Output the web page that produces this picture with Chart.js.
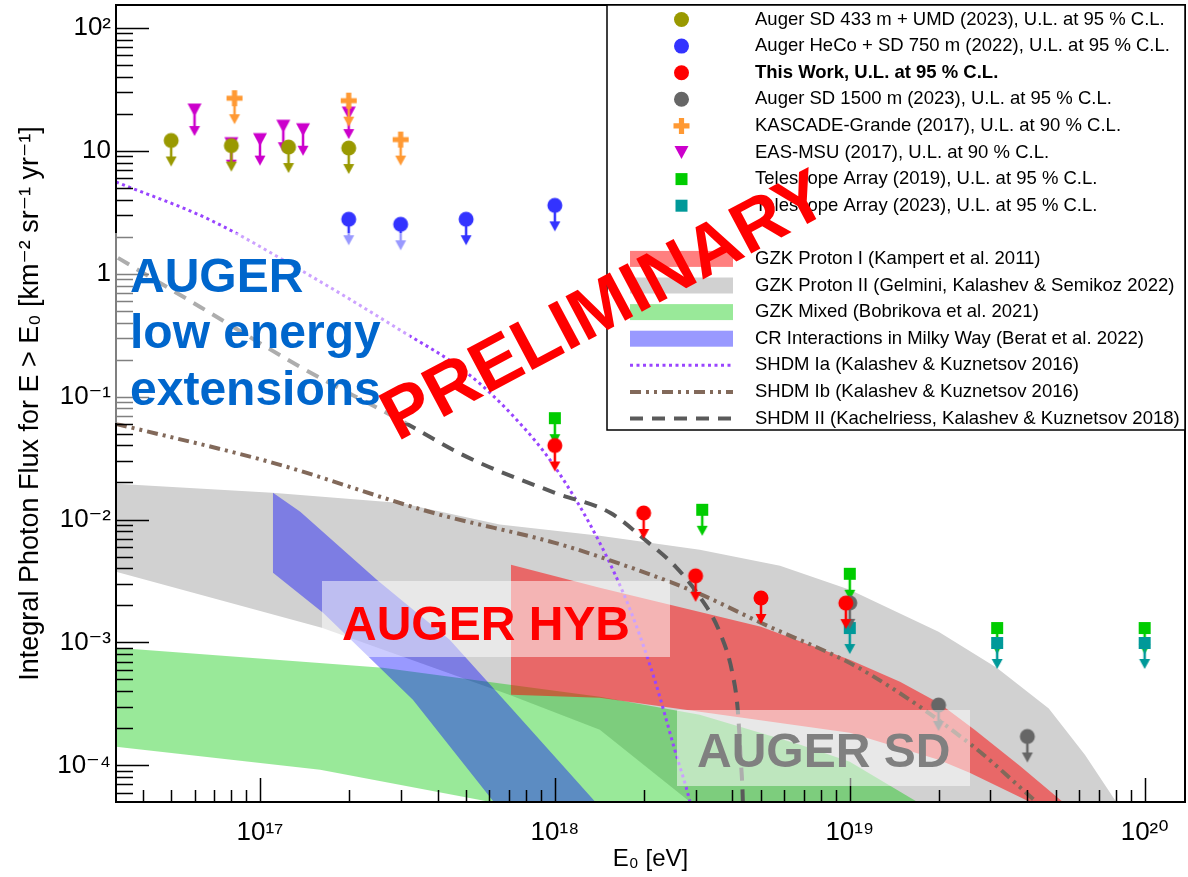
<!DOCTYPE html>
<html>
<head>
<meta charset="utf-8">
<title>Integral photon flux upper limits</title>
<script src="https://cdn.jsdelivr.net/npm/chart.js@4.4.1/dist/chart.umd.min.js"></script>
<style>
  html, body { margin: 0; padding: 0; background: #fff; }
  canvas { display: block; }
</style>
</head>
<body>
<canvas id="chart" width="1188" height="877"></canvas>
<script>
// upper limits, E0 [eV] and flux [km^-2 sr^-1 yr^-1]
const sd433E = [5e16, 8e16, 1.25e17, 2e17];
const sd433UL = [12.1, 11.0, 10.7, 10.5];
const hecoE = [2e17, 3e17, 5e17, 1e18];
const hecoUL = [2.77, 2.52, 2.77, 3.59];
const hybE = [1e18, 2e18, 3e18, 5e18, 9.7e18];
const hybUL = [0.040, 0.0113, 0.00348, 0.0023, 0.00209];
const sd1500E = [1e19, 2e19, 4e19];
const sd1500UL = [0.0021, 3.1e-4, 1.72e-4];
const kgE = [8.2e16, 2e17, 3e17];
const kgUL = [26.7, 25.5, 12.3];
const msuE = [6e16, 8e16, 1e17, 1.2e17, 1.4e17, 2e17];
const msuUL = [21.4, 11.4, 12.3, 15.8, 14.8, 20.2];
const ta19E = [1e18, 3.16e18, 1e19, 3.16e19, 1e20];
const ta19UL = [0.0667, 0.012, 0.00362, 0.00131, 0.00131];
const ta23E = [1e19, 3.16e19, 1e20];
const ta23UL = [0.00131, 0.00099, 0.00099];

// model bands: upper and lower edges
const gzk1UpE = [7.1e17, 1.42e18, 5.0e18, 1.0e19, 1.48e19, 2.0e19, 2.65e19, 3.77e19, 5.3e19, 6.5e19];
const gzk1UpF = [0.00428, 0.00279, 0.00134, 0.000723, 0.000479, 0.000324, 0.000195, 9.95e-5, 5.0e-5, 2.0e-5];
const gzk1LoE = [7.1e17, 1.42e18, 3.1e18, 1.0e19, 2.0e19, 2.55e19, 4.07e19, 5.15e19];
const gzk1LoF = [0.000376, 0.000355, 0.000273, 0.000184, 0.000111, 8.7e-5, 5.07e-5, 2.0e-5];

const gzk2UpE = [3.25e16, 1.1e17, 3.0e17, 6.5e17, 1.42e18, 3.1e18, 5.8e18, 1.0e19, 2.0e19, 3.15e19, 4.73e19, 6.27e19, 8.0e19, 8.9e19, 9.8e19];
const gzk2UpF = [0.0195, 0.0165, 0.0136, 0.0091, 0.00737, 0.00567, 0.0042, 0.00268, 0.00122, 0.000623, 0.00029, 0.000122, 5.07e-5, 3.0e-5, 2.0e-5];
const gzk2LoE = [3.25e16, 1.62e17, 7.0e17, 1.42e18, 2.87e18, 3.6e18];
const gzk2LoF = [0.00376, 0.00132, 0.000376, 0.000195, 5.07e-5, 2.0e-5];

const mixUpE = [3.25e16, 2.61e17, 1.42e18, 3.1e18, 6.8e18, 1.0e19, 1.69e19, 1.95e19];
const mixUpF = [0.000906, 0.000623, 0.000362, 0.000258, 0.000147, 0.000107, 5.07e-5, 2.0e-5];
const mixLoE = [3.25e16, 1.6e17, 6.0e17, 8.9e17];
const mixLoF = [0.000142, 9.2e-5, 5.07e-5, 2.0e-5];

const mwUpE = [1.107e17, 1.37e17, 2.49e17, 4.4e17, 7.2e17, 1.37e18, 1.93e18];
const mwUpF = [0.0165, 0.01155, 0.00324, 0.00105, 0.000284, 5.07e-5, 2.06e-5];
const mwLoE = [1.107e17, 1.64e17, 3.3e17, 6.2e17, 8.2e17];
const mwLoF = [0.00369, 0.00174, 0.000342, 5.07e-5, 2.06e-5];

// SHDM curves
const shdmIaE = [3.25e16, 6.78e16, 1.37e17, 2.98e17, 5.03e17, 7.43e17, 1e18, 1.42e18, 1.8e18, 2.18e18, 2.55e18, 2.87e18, 3.1e18];
const shdmIaF = [5.57, 2.73, 1.072, 0.3485, 0.1559, 0.0646, 0.0268, 0.00646, 0.001845, 0.000497, 0.000134, 5.07e-5, 2.06e-5];
const shdmIbE = [3.25e16, 1.107e17, 3.86e17, 1e18, 1.42e18, 3.03e18, 4.99e18, 1.1e19, 2.63e19, 4.21e19, 5.5e19];
const shdmIbF = [0.0600, 0.0289, 0.01134, 0.00646, 0.00497, 0.00254, 0.001446, 0.0006, 0.000142, 5.26e-5, 3.0e-5];
const shdmIIE = [3.3e16, 6.27e16, 1.37e17, 2.98e17, 5.03e17, 1e18, 1.54e18, 2.02e18, 2.57e18, 3.03e18, 3.63e18, 4.01e18, 4.17e18, 4.27e18, 4.34e18, 4.37e18];
const shdmIIF = [1.342, 0.536, 0.1743, 0.0646, 0.0323, 0.01649, 0.01134, 0.00684, 0.00412, 0.00254, 0.0012, 0.000546, 0.000284, 0.000111, 5.07e-5, 2.06e-5];

// axis ticks
const xTickValues = [1e17, 1e18, 1e19, 1e20];
const xTickLabels = ['10¹⁷', '10¹⁸', '10¹⁹', '10²⁰'];
const yTickValues = [1e-4, 1e-3, 1e-2, 1e-1, 1, 10, 100];
const yTickLabels = ['10⁻⁴', '10⁻³', '10⁻²', '10⁻¹', '1', '10', '10²'];

const FONT = "'Liberation Sans', Arial, Helvetica, 'DejaVu Sans', sans-serif";

const pts = (xs, ys) => xs.map((x, i) => ({x: x, y: ys[i]}));
const band = (ux, uy, lx, ly) => pts(ux, uy).concat(pts(lx, ly).reverse());

function drawMarker(c, shape, color, cx, cy) {
    c.fillStyle = color;
    c.beginPath();
    if (shape === 'circle') {
        c.arc(cx, cy, 7.5, 0, 2 * Math.PI);
    } else if (shape === 'square') {
        c.rect(cx - 6, cy - 6, 12, 12);
    } else if (shape === 'cross') {
        c.rect(cx - 8, cy - 2.6, 16, 5.2);
        c.rect(cx - 2.6, cy - 8, 5.2, 16);
    } else if (shape === 'triDown') {
        c.moveTo(cx - 7, cy - 6.5);
        c.lineTo(cx + 7, cy - 6.5);
        c.lineTo(cx, cy + 6.5);
        c.closePath();
    }
    c.fill();
}

// marker with a downward arrow (upper limit)
function ulMarker(shape, color) {
    const cv = document.createElement('canvas');
    cv.width = 24;
    cv.height = 64;
    const c = cv.getContext('2d');
    const cx = 12, cy = 32, len = 26;
    c.strokeStyle = color;
    c.lineWidth = 2.5;
    c.beginPath();
    c.moveTo(cx, cy);
    c.lineTo(cx, cy + len - 8);
    c.stroke();
    c.fillStyle = color;
    c.beginPath();
    c.moveTo(cx - 5.5, cy + len - 10);
    c.lineTo(cx + 5.5, cy + len - 10);
    c.lineTo(cx, cy + len);
    c.closePath();
    c.fill();
    drawMarker(c, shape, color, cx, cy);
    return cv;
}

function ulSet(label, xs, ys, shape, color, order, row, bold) {
    return {
        label: label, data: pts(xs, ys), showLine: false,
        pointStyle: ulMarker(shape, color), pointRadius: 10, order: order,
        lg: {row: row, kind: 'marker', shape: shape, color: color, bold: bold}
    };
}

function bandSet(label, data, color, order, row) {
    return {
        label: label, data: data, fill: 'shape', backgroundColor: color,
        borderColor: 'rgba(0,0,0,0)', borderWidth: 0, pointRadius: 0, tension: 0,
        clip: 0, order: order, lg: {row: row, kind: 'band', color: color}
    };
}

function curveSet(label, xs, ys, color, width, dash, order, row) {
    return {
        label: label, data: pts(xs, ys), fill: false, borderColor: color,
        borderWidth: width, borderDash: dash, pointRadius: 0,
        cubicInterpolationMode: 'monotone', clip: 0, order: order,
        lg: {row: row, kind: 'line'}
    };
}

const datasets = [
    ulSet('Auger SD 433 m + UMD (2023), U.L. at 95 % C.L.', sd433E, sd433UL, 'circle', '#999900', 3, 0),
    ulSet('Auger HeCo + SD 750 m (2022), U.L. at 95 % C.L.', hecoE, hecoUL, 'circle', '#3333ff', 4, 1),
    ulSet('This Work, U.L. at 95 % C.L.', hybE, hybUL, 'circle', '#ff0000', 1, 2, true),
    ulSet('Auger SD 1500 m (2023), U.L. at 95 % C.L.', sd1500E, sd1500UL, 'circle', '#666666', 5, 3),
    ulSet('KASCADE-Grande (2017), U.L. at 90 % C.L.', kgE, kgUL, 'cross', '#ff9933', 2, 4),
    ulSet('EAS-MSU (2017), U.L. at 90 % C.L.', msuE, msuUL, 'triDown', '#cc00cc', 8, 5),
    ulSet('Telescope Array (2019), U.L. at 95 % C.L.', ta19E, ta19UL, 'square', '#00cc00', 7, 6),
    ulSet('Telescope Array (2023), U.L. at 95 % C.L.', ta23E, ta23UL, 'square', '#009999', 6, 7),
    bandSet('GZK Proton I (Kampert et al. 2011)', band(gzk1UpE, gzk1UpF, gzk1LoE, gzk1LoF), 'rgba(255,0,0,0.5)', 12, 9),
    bandSet('GZK Proton II (Gelmini, Kalashev & Semikoz 2022)', band(gzk2UpE, gzk2UpF, gzk2LoE, gzk2LoF), 'rgb(209,209,209)', 15, 10),
    bandSet('GZK Mixed (Bobrikova et al. 2021)', band(mixUpE, mixUpF, mixLoE, mixLoF), 'rgba(0,200,0,0.4)', 14, 11),
    bandSet('CR Interactions in Milky Way (Berat et al. 2022)', band(mwUpE, mwUpF, mwLoE, mwLoF), 'rgba(0,0,255,0.4)', 13, 12),
    curveSet('SHDM Ia (Kalashev & Kuznetsov 2016)', shdmIaE, shdmIaF, '#9945ff', 3, [3, 3.5], 11, 13),
    curveSet('SHDM Ib (Kalashev & Kuznetsov 2016)', shdmIbE, shdmIbF, '#82695a', 4, [11, 5, 3, 5, 3, 5], 10, 14),
    curveSet('SHDM II (Kachelriess, Kalashev & Kuznetsov 2018)', shdmIIE, shdmIIF, '#5a5a5a', 4, [13, 9], 9, 15)
];

// inward ROOT style ticks, frame, labels, legend
const overlay = {
    id: 'overlay',
    afterDatasetsDraw(chart) {
        const ctx = chart.ctx;
        const a = chart.chartArea;
        const xs = chart.scales.x, ys = chart.scales.y;
        ctx.save();
        ctx.strokeStyle = '#000';
        ctx.lineWidth = 1.5;
        ctx.beginPath();
        for (let d = -5; d <= 2; d++) {
            for (let k = 1; k <= 9; k++) {
                const v = k * Math.pow(10, d);
                if (v < ys.min || v > ys.max) continue;
                const py = Math.round(ys.getPixelForValue(v)) + 0.5;
                ctx.moveTo(a.left, py);
                ctx.lineTo(a.left + (k === 1 ? 33 : 17), py);
            }
        }
        for (let d = 16; d <= 20; d++) {
            for (let k = 1; k <= 9; k++) {
                const v = k * Math.pow(10, d);
                if (v < xs.min || v > xs.max) continue;
                const px = Math.round(xs.getPixelForValue(v)) + 0.5;
                ctx.moveTo(px, a.bottom);
                ctx.lineTo(px, a.bottom - (k === 1 ? 24 : 12));
            }
        }
        ctx.stroke();
        ctx.lineWidth = 2;
        ctx.strokeRect(a.left, a.top, a.right - a.left, a.bottom - a.top);

        // translucent label boxes
        ctx.fillStyle = 'rgba(255,255,255,0.5)';
        ctx.fillRect(112, 233, 298, 190);
        ctx.fillRect(322, 581, 348, 76);
        ctx.fillRect(677, 710, 293, 76);
        ctx.font = 'bold 48px ' + FONT;
        ctx.textAlign = 'left';
        ctx.textBaseline = 'alphabetic';
        ctx.fillStyle = '#0066cc';
        ctx.fillText('AUGER', 130, 292);
        ctx.fillText('low energy', 130, 348);
        ctx.fillText('extensions', 130, 405);
        ctx.fillStyle = '#ff0000';
        ctx.fillText('AUGER HYB', 342, 640);
        ctx.fillStyle = '#808080';
        ctx.fillText('AUGER SD', 697, 767);

        // legend
        const L = {x0: 607, y0: a.top, x1: a.right, y1: 430, row0: 19.5, step: 26.6, symX: 681.5, swX0: 630, swX1: 733, textX: 755};
        ctx.fillStyle = '#fff';
        ctx.fillRect(L.x0, L.y0, L.x1 - L.x0, L.y1 - L.y0);
        ctx.strokeStyle = '#000';
        ctx.lineWidth = 1.5;
        ctx.strokeRect(L.x0, L.y0, L.x1 - L.x0, L.y1 - L.y0);
        chart.data.datasets.forEach(ds => {
            const g = ds.lg;
            const yy = L.row0 + g.row * L.step;
            if (g.kind === 'marker') {
                drawMarker(ctx, g.shape, g.color, L.symX, yy);
            } else if (g.kind === 'band') {
                ctx.fillStyle = g.color;
                ctx.fillRect(L.swX0, yy - 8, L.swX1 - L.swX0, 16);
            } else {
                ctx.strokeStyle = ds.borderColor;
                ctx.lineWidth = ds.borderWidth;
                ctx.setLineDash(ds.borderDash);
                ctx.beginPath();
                ctx.moveTo(L.swX0, yy);
                ctx.lineTo(L.swX1, yy);
                ctx.stroke();
                ctx.setLineDash([]);
            }
            ctx.font = (g.bold ? 'bold ' : '') + '18.5px ' + FONT;
            ctx.fillStyle = '#000';
            ctx.textAlign = 'left';
            ctx.textBaseline = 'middle';
            ctx.fillText(ds.label, L.textX, yy);
        });

        // watermark
        ctx.translate(603, 303);
        ctx.rotate(-28 * Math.PI / 180);
        ctx.font = 'bold 72px ' + FONT;
        ctx.fillStyle = '#ff0000';
        ctx.textAlign = 'center';
        ctx.textBaseline = 'alphabetic';
        ctx.fillText('PRELIMINARY', 0, 26);
        ctx.restore();
    }
};

Chart.defaults.font.family = FONT;
Chart.defaults.color = '#000';

new Chart(document.getElementById('chart'), {
    type: 'line',
    data: {datasets: datasets},
    options: {
        responsive: false,
        animation: false,
        events: [],
        layout: {autoPadding: false, padding: {top: 5, right: 3, left: 0, bottom: 0}},
        plugins: {
            legend: {display: false},
            tooltip: {enabled: false}
        },
        scales: {
            x: {
                type: 'logarithmic',
                min: 3.25e16,
                max: 1.37e20,
                grid: {display: false, drawTicks: false},
                border: {display: false},
                afterBuildTicks: s => { s.ticks = xTickValues.map(v => ({value: v})); },
                afterFit: s => { s.height = 75; s.paddingLeft = 0; s.paddingRight = 0; },
                ticks: {
                    callback: (v, i) => xTickLabels[i],
                    font: {size: 26},
                    padding: 15,
                    maxRotation: 0,
                    autoSkip: false
                },
                title: {display: true, text: 'E₀ [eV]', font: {size: 24}, padding: {top: 0, bottom: 3}}
            },
            y: {
                type: 'logarithmic',
                min: 5.04e-5,
                max: 153,
                grid: {display: false, drawTicks: false},
                border: {display: false},
                afterBuildTicks: s => { s.ticks = yTickValues.map(v => ({value: v})); },
                afterFit: s => { s.width = 116; s.paddingTop = 0; s.paddingBottom = 0; },
                ticks: {
                    callback: (v, i) => yTickLabels[i],
                    font: {size: 26},
                    padding: 5,
                    autoSkip: false
                },
                title: {
                    display: true,
                    text: 'Integral Photon Flux for E > E₀ [km⁻² sr⁻¹ yr⁻¹]',
                    font: {size: 27},
                    padding: {top: 14, bottom: 0}
                }
            }
        }
    },
    plugins: [overlay]
});
</script>
</body>
</html>
